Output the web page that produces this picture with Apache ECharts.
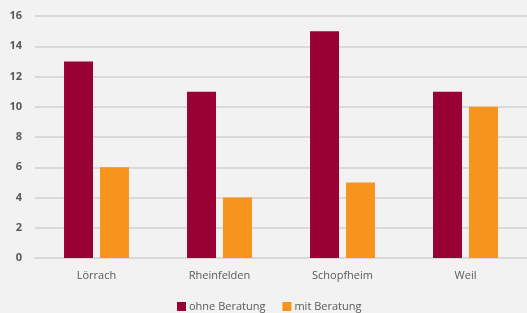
<!DOCTYPE html>
<html><head><meta charset="utf-8">
<script src="https://cdn.jsdelivr.net/npm/echarts@6/dist/echarts.min.js"></script>
<style>html,body{margin:0;padding:0;background:#f2f2f2}#c{width:527px;height:313px}</style>
</head><body><div id="c"></div>
<script>
const categories = ['Lörrach', 'Rheinfelden', 'Schopfheim', 'Weil'];
const ohneBeratung = [13, 11, 15, 11];
const mitBeratung = [6, 4, 5, 10];
const seriesNames = ['ohne Beratung', 'mit Beratung'];
const chart = echarts.init(document.getElementById('c'), null, {renderer: 'canvas'});
const font = "'Open Sans', sans-serif";
chart.setOption({
  backgroundColor: '#f2f2f2',
  animation: false,
  grid: {left: 35, right: -2, top: 16, bottom: 55},
  legend: {
    top: 301, left: 177, padding: 0, itemWidth: 9, itemHeight: 9, itemGap: 17, icon: 'rect',
    textStyle: {color: '#595959', fontSize: 11, fontFamily: font, padding: [0, 0, 0, -2]},
    data: seriesNames
  },
  xAxis: {
    type: 'category', data: categories,
    axisLine: {lineStyle: {color: '#d9d9d9', width: 2}},
    axisTick: {show: false},
    axisLabel: {color: '#595959', fontSize: 11, fontFamily: font, margin: 12}
  },
  yAxis: {
    type: 'value', min: 0, max: 16, interval: 2,
    axisLine: {show: false}, axisTick: {show: false},
    splitLine: {lineStyle: {color: '#d9d9d9', width: 2}},
    axisLabel: {color: '#595959', fontSize: 11, fontFamily: font, margin: 13, fontWeight: 'bold'}
  },
  series: [
    {name: seriesNames[0], type: 'bar', data: ohneBeratung, itemStyle: {color: '#990033'}, barWidth: 29, barGap: '24%'},
    {name: seriesNames[1], type: 'bar', data: mitBeratung, itemStyle: {color: '#f7941d'}, barWidth: 29}
  ]
});
</script></body></html>
